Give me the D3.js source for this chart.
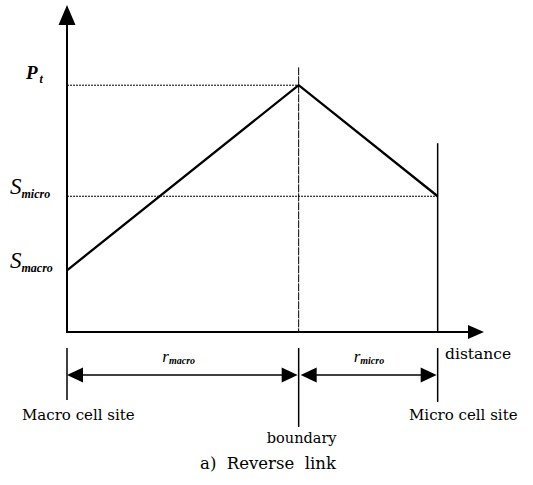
<!DOCTYPE html>
<html>
<head>
<meta charset="utf-8">
<script src="https://cdn.jsdelivr.net/npm/d3@7"></script>
<style>
  body { margin: 0; background: #fff; }
  text { font-family: "DejaVu Serif", serif; fill: #000; }
  text.math { font-family: "Liberation Serif", "Times New Roman", serif; }
</style>
</head>
<body>
<div id="plot"></div>
<script>
// Power level along the path from macro site to micro site (reverse link)

// distances (boundary = 1 unit of r_macro)
const siteNames = ["Macro cell site", "boundary", "Micro cell site"];
const siteDist = [0, 1, 1.6];
const axisMaxDist = 1.8;

// received power levels along the path
const powerDist = [0, 1, 1.6];
const powerLevel = [1, 4, 2.2];

// reference levels on the y axis
const levelNames = ["P", "S", "S"];
const levelSubs = ["t", "micro", "macro"];
const levelValues = [4, 2.2, 1];
const axisMaxLevel = 5.3;

// guide line tops for the two site verticals above the axis
const boundaryTop = 4.29;
const microTop = 3.06;

const rNames = ["macro", "micro"];

const W = 533, H = 485;
const svg = d3.select("#plot").append("svg")
  .attr("width", W).attr("height", H);

const x = d3.scaleLinear().domain([0, axisMaxDist]).range([67, 484]);
const y = d3.scaleLinear().domain([0, axisMaxLevel]).range([332, 5]);

const ink = "#000";

// dotted guide lines to the levels
svg.append("line")
  .attr("x1", x(0)).attr("x2", x(siteDist[1]))
  .attr("y1", y(levelValues[0])).attr("y2", y(levelValues[0]))
  .attr("stroke", ink).attr("stroke-width", 1).attr("stroke-dasharray", "2,1");
svg.append("line")
  .attr("x1", x(0)).attr("x2", x(siteDist[2]))
  .attr("y1", y(levelValues[1])).attr("y2", y(levelValues[1]))
  .attr("stroke", ink).attr("stroke-width", 1).attr("stroke-dasharray", "2,1");

// boundary vertical (thin) and micro vertical
svg.append("line")
  .attr("x1", x(siteDist[1])).attr("x2", x(siteDist[1]))
  .attr("y1", y(boundaryTop)).attr("y2", y(0))
  .attr("stroke", ink).attr("stroke-width", 1).attr("stroke-dasharray", "8,1");
svg.append("line")
  .attr("x1", x(siteDist[2])).attr("x2", x(siteDist[2]))
  .attr("y1", y(microTop)).attr("y2", y(0))
  .attr("stroke", ink).attr("stroke-width", 1.5);

// power profile
const line = d3.line().x(d => x(d[0])).y(d => y(d[1]));
svg.append("path")
  .datum(d3.zip(powerDist, powerLevel))
  .attr("d", line)
  .attr("fill", "none").attr("stroke", ink).attr("stroke-width", 2.3)
  .attr("stroke-linejoin", "miter");

// axes with arrowheads
svg.append("line")
  .attr("x1", x(0)).attr("x2", x(0))
  .attr("y1", y(0)).attr("y2", y(axisMaxLevel) + 12)
  .attr("stroke", ink).attr("stroke-width", 2);
svg.append("line")
  .attr("x1", x(0) - 1).attr("x2", x(axisMaxDist) - 10)
  .attr("y1", y(0)).attr("y2", y(0))
  .attr("stroke", ink).attr("stroke-width", 2);

function head(tx, ty, dir, len, half) {
  // dir: "up", "right", "left"
  let pts;
  if (dir === "up") pts = [[tx, ty], [tx - half, ty + len], [tx + half, ty + len]];
  else if (dir === "right") pts = [[tx, ty], [tx - len, ty - half], [tx - len, ty + half]];
  else pts = [[tx, ty], [tx + len, ty - half], [tx + len, ty + half]];
  svg.append("path").attr("d", "M" + pts.join("L") + "Z").attr("fill", ink);
}
head(x(0), y(axisMaxLevel), "up", 20, 8.5);
head(x(axisMaxDist), y(0), "right", 16, 7);

// level labels
levelValues.forEach((v, i) => {
  const t = svg.append("text").attr("class", "math")
    .attr("x", i === 0 ? 26 : 10)
    .attr("y", y(v) + (i === 0 ? -6 : -2))
    .style("font-style", "italic");
  t.append("tspan")
    .style("font-size", i === 0 ? "19px" : "23px")
    .style("font-weight", i === 0 ? "bold" : "normal")
    .text(levelNames[i]);
  t.append("tspan")
    .attr("dy", 4)
    .attr("dx", i === 0 ? 2 : 0)
    .style("font-size", i === 0 ? "12px" : "12px")
    .style("font-weight", "bold")
    .text(levelSubs[i]);
});

// lower site markers
const tickTop = 348;
const tickBottoms = [400, 427, 402];
siteDist.forEach((d, i) => {
  svg.append("line")
    .attr("x1", x(d)).attr("x2", x(d))
    .attr("y1", tickTop).attr("y2", tickBottoms[i])
    .attr("stroke", ink).attr("stroke-width", 1.5);
});

// dimension arrows r_macro and r_micro
const arrowY = 375;
[[0, 1], [1, 2]].forEach((pair, i) => {
  const x1 = x(siteDist[pair[0]]) + (i === 1 ? 2 : 0);
  const x2 = x(siteDist[pair[1]]) - 1;
  svg.append("line")
    .attr("x1", x1 + 10).attr("x2", x2 - 10)
    .attr("y1", arrowY).attr("y2", arrowY)
    .attr("stroke", ink).attr("stroke-width", 1.7);
  head(x1, arrowY, "left", 16, 7.5);
  head(x2, arrowY, "right", 16, 7.5);
  const mid = (x1 + x2) / 2;
  const t = svg.append("text").attr("class", "math")
    .attr("x", i === 0 ? mid - 20 : mid - 15)
    .attr("y", 362)
    .style("font-style", "italic");
  t.append("tspan").style("font-size", "17px").text("r");
  t.append("tspan").attr("dy", 2).style("font-size", "10px").style("font-weight", "bold").text(rNames[i]);
});

// site labels
svg.append("text").attr("x", 22).attr("y", 420).style("font-size", "15px").text(siteNames[0]);
svg.append("text").attr("x", x(siteDist[1]) + 3).attr("y", 443)
  .attr("text-anchor", "middle").style("font-size", "14.5px").text(siteNames[1]);
svg.append("text").attr("x", 409).attr("y", 420).style("font-size", "15px").text(siteNames[2]);
svg.append("text").attr("x", 445).attr("y", 359).style("font-size", "15.5px").text("distance");

// caption
svg.append("text").attr("x", 268).attr("y", 469)
  .attr("text-anchor", "middle").style("font-size", "16.5px")
  .attr("xml:space", "preserve").text("a)  Reverse  link");
</script>
</body>
</html>
